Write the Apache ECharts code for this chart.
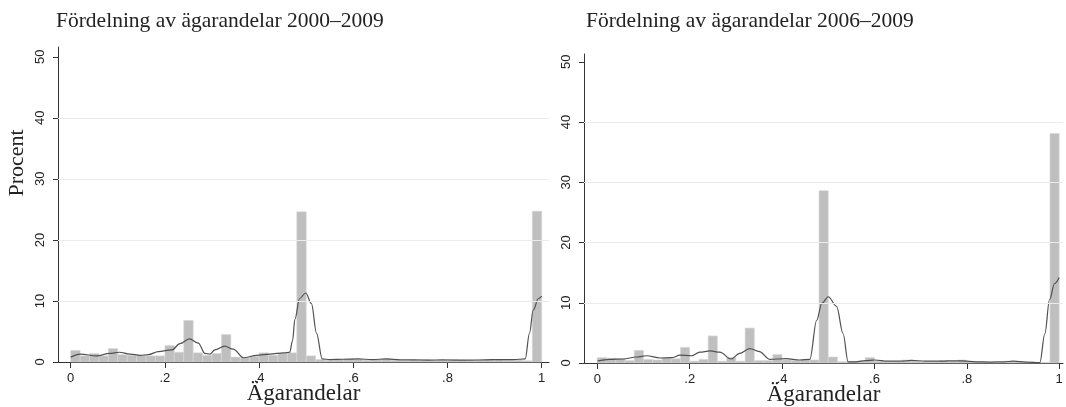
<!DOCTYPE html>
<html>
<head>
<meta charset="utf-8">
<script src="https://cdn.jsdelivr.net/npm/echarts@6/dist/echarts.min.js"></script>
<style>
html,body{margin:0;padding:0;background:#fff;}
#c{width:1066px;height:407px;}
</style>
</head>
<body>
<div id="c"></div>
<script>
// ---- data ----
const titles = ['Fördelning av ägarandelar 2000–2009', 'Fördelning av ägarandelar 2006–2009'];
const yAxisTitle = 'Procent';
const xAxisTitle = 'Ägarandelar';
const binWidth = 0.02;
const xTickValues = [0, 0.2, 0.4, 0.6, 0.8, 1];
const xTickLabels = ['0', '.2', '.4', '.6', '.8', '1'];
const yTickValues = [0, 10, 20, 30, 40, 50];
const yTickLabels = ['0', '10', '20', '30', '40', '50'];
const gridValues = [10, 20, 30, 40];

// histogram heights (percent) per bin of width 0.02, starting at 0
const leftBars = [
  1.9, 1.0, 1.4, 1.0, 2.2, 1.2, 1.1, 1.1, 1.0, 1.0,
  2.7, 1.6, 6.8, 1.5, 1.1, 1.4, 4.5, 0.8, 0.7, 0.9,
  1.5, 1.1, 1.4, 1.5, 24.6, 1.0, 0.4, 0.3, 0.4, 0.5,
  0.4, 0.3, 0.4, 0.5, 0.3, 0.2, 0.3, 0.4, 0.3, 0.3,
  0.4, 0.3, 0.2, 0.3, 0.4, 0.4, 0.3, 0.3, 0.2, 24.7
];
const rightBars = [
  0.9, 0.8, 0.7, 0.4, 2.1, 0.6, 0.5, 0.8, 0.7, 2.6,
  0.3, 0.6, 4.5, 0.3, 0.9, 0.3, 5.8, 0.4, 0.4, 1.4,
  0.5, 0.4, 0.5, 0.5, 28.6, 1.0, 0.2, 0.3, 0.3, 0.9,
  0.3, 0.2, 0.2, 0.5, 0.3, 0.2, 0.2, 0.4, 0.3, 0.5,
  0.2, 0.2, 0.1, 0.1, 0.3, 0.2, 0.1, 0.1, 0.1, 38.1
];

// kernel density curves [x, percent]
const leftKde = [
  [0.0,0.8],[0.02,1.3],[0.055,1.0],[0.083,1.4],[0.103,1.6],[0.126,1.3],[0.147,1.1],
  [0.165,1.2],[0.186,1.7],[0.215,2.0],[0.232,3.0],[0.252,3.8],[0.271,3.1],[0.285,1.4],
  [0.296,1.3],[0.306,2.0],[0.327,2.6],[0.345,2.1],[0.367,0.7],[0.395,1.1],[0.423,1.3],
  [0.452,1.5],[0.465,1.6],[0.471,3.5],[0.476,7.0],[0.486,10.4],[0.499,11.3],[0.511,9.6],[0.522,4.7],
  [0.534,0.5],[0.55,0.4],[0.58,0.45],[0.61,0.5],[0.64,0.4],[0.67,0.5],[0.70,0.35],
  [0.73,0.35],[0.76,0.3],[0.79,0.35],[0.82,0.3],[0.85,0.3],[0.88,0.35],[0.91,0.4],
  [0.94,0.4],[0.965,0.5],[0.974,4.7],[0.982,8.5],[0.993,10.4],[1.0,10.8]
];
const rightKde = [
  [0.0,0.33],[0.027,0.6],[0.056,0.66],[0.085,1.0],[0.107,1.2],[0.136,0.83],[0.161,0.88],
  [0.179,1.3],[0.204,1.2],[0.222,1.8],[0.244,2.0],[0.265,1.8],[0.29,0.66],[0.308,1.6],
  [0.33,2.4],[0.351,1.9],[0.373,0.6],[0.409,0.72],[0.438,0.5],[0.46,0.6],[0.475,7.1],
  [0.486,9.9],[0.5,11.0],[0.518,9.4],[0.532,4.9],[0.543,0.2],[0.56,0.2],[0.58,0.4],
  [0.60,0.5],[0.63,0.3],[0.66,0.3],[0.68,0.45],[0.71,0.3],[0.74,0.3],[0.76,0.35],
  [0.79,0.35],[0.82,0.2],[0.85,0.15],[0.88,0.2],[0.90,0.3],[0.93,0.15],[0.958,0.05],
  [0.969,4.9],[0.979,10.5],[0.99,13.2],[1.0,14.2]
];

// ---- chart ----
const serif = '"Liberation Serif", "DejaVu Serif", serif';
const sans = '"Liberation Sans", Arial, sans-serif';
const chart = echarts.init(document.getElementById('c'), null, {renderer: 'canvas'});

function binData(arr){ return arr.map((v,i)=>[i*binWidth, (i+1)*binWidth, v]); }

function renderBars(params, api){
  const p0 = api.coord([api.value(0), 0]);
  const p1 = api.coord([api.value(1), api.value(2)]);
  return {
    type: 'rect',
    shape: {x: p0[0], y: p1[1], width: p1[0]-p0[0], height: p0[1]-p1[1]},
    style: {fill: '#bfbfbf', stroke: '#d6d6d6', lineWidth: 0.6}
  };
}

function xAxisCfg(idx, min, max){
  return {
    type: 'value', gridIndex: idx, min: min, max: max,
    name: xAxisTitle, nameLocation: 'middle', nameGap: 20, nameMoveOverlap: false,
    nameTextStyle: {fontFamily: serif, fontSize: 23, color: '#222'},
    axisLine: {show: true, onZero: false, lineStyle: {color: '#333', width: 1}},
    axisTick: {show: true, length: 6, customValues: xTickValues, lineStyle: {color: '#333'}},
    axisLabel: {customValues: xTickValues, margin: 10, fontFamily: sans, fontSize: 13, color: '#222',
      formatter: v => { const i = xTickValues.findIndex(t => Math.abs(t - v) < 1e-9); return i >= 0 ? xTickLabels[i] : ''; }},
    splitLine: {show: false}
  };
}
function yAxisCfg(idx, max){
  return {
    type: 'value', gridIndex: idx, min: 0, max: max,
    axisLine: {show: true, onZero: false, lineStyle: {color: '#333', width: 1}},
    axisTick: {show: true, length: 5, customValues: yTickValues, lineStyle: {color: '#333'}},
    axisLabel: {customValues: yTickValues, rotate: 90, margin: 11, fontFamily: sans, fontSize: 13, color: '#222',
      formatter: v => { const i = yTickValues.findIndex(t => Math.abs(t - v) < 1e-9); return i >= 0 ? yTickLabels[i] : ''; }},
    splitLine: {show: false}
  };
}
function gridSeries(idx){
  return {
    type: 'line', xAxisIndex: idx, yAxisIndex: idx, data: [], z: 1, silent: true,
    markLine: {
      silent: true, symbol: 'none', label: {show: false},
      lineStyle: {color: '#ebebeb', width: 1, type: 'solid'},
      data: gridValues.map(v => ({yAxis: v}))
    }
  };
}

chart.setOption({
  animation: false,
  backgroundColor: '#fff',
  title: [
    {text: titles[0], left: 51, top: 5, textStyle: {fontFamily: serif, fontSize: 21.5, fontWeight: 'normal', color: '#222'}},
    {text: titles[1], left: 581, top: 5, textStyle: {fontFamily: serif, fontSize: 21.5, fontWeight: 'normal', color: '#222'}}
  ],
  graphic: [{
    type: 'text', x: 17, y: 163, rotation: Math.PI/2,
    style: {text: yAxisTitle, font: '22px ' + serif, fill: '#222', align: 'center', verticalAlign: 'middle'}
  }],
  grid: [
    {left: 58, top: 47, width: 491, height: 315, outerBoundsMode: 'none', containLabel: false},
    {left: 584, top: 54, width: 479, height: 309, outerBoundsMode: 'none', containLabel: false}
  ],
  xAxis: [xAxisCfg(0, -0.027, 1.0155), xAxisCfg(1, -0.0288, 1.0082)],
  yAxis: [yAxisCfg(0, 51.6), yAxisCfg(1, 51.3)],
  series: [
    gridSeries(0),
    {type: 'custom', xAxisIndex: 0, yAxisIndex: 0, renderItem: renderBars, data: binData(leftBars),
      encode: {x: [0,1], y: 2}, z: 2},
    {type: 'line', xAxisIndex: 0, yAxisIndex: 0, data: leftKde, showSymbol: false, symbol: 'none',
      smooth: 0.35, smoothMonotone: 'x', lineStyle: {color: '#505050', width: 1.2}, z: 3},
    gridSeries(1),
    {type: 'custom', xAxisIndex: 1, yAxisIndex: 1, renderItem: renderBars, data: binData(rightBars),
      encode: {x: [0,1], y: 2}, z: 2},
    {type: 'line', xAxisIndex: 1, yAxisIndex: 1, data: rightKde, showSymbol: false, symbol: 'none',
      smooth: 0.35, smoothMonotone: 'x', lineStyle: {color: '#505050', width: 1.2}, z: 3}
  ]
});
</script>
</body>
</html>
